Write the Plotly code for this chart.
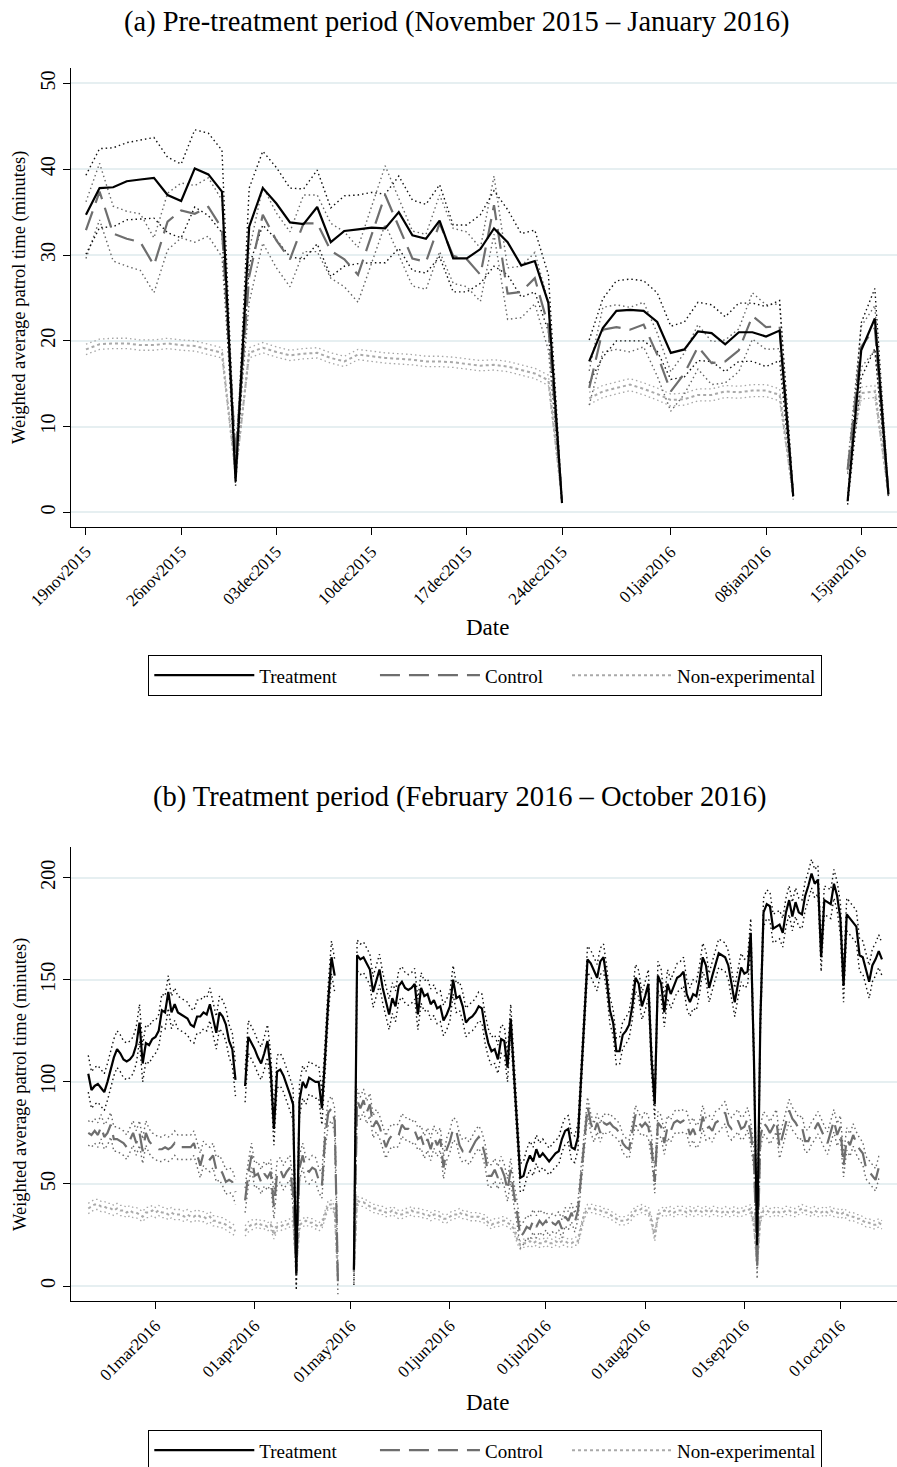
import pandas as pd
import plotly.graph_objects as go

SERIF = "Liberation Serif"

# ---------------- Panel (a): pre-treatment, daily from 19 Nov 2015 ----------------
pre_start = "2015-11-19"
pre_treatment = [
    34.7, 37.8, 37.9, 38.6, 38.8, 39.0, 37.0, 36.3, 40.1, 39.4,
    37.4, 3.6, 33.3, 37.8, 36.0, 33.8, 33.6, 35.6, 31.5, 32.8,
    33.0, 33.2, 33.1, 35.0, 32.3, 31.9, 34.0, 29.6, 29.6, 30.7,
    33.1, 31.5, 28.8, 29.3, 24.4, 1.1, None, 17.6, 21.5, 23.5,
    23.6, 23.5, 22.2, 18.6, 19.0, 21.1, 20.9, 19.6, 21.0, 21.0,
    20.5, 21.2, 1.9, None, None, None, 1.3, 18.9, 22.6, 2.1,
]
pre_control = [
    32.9, 37.4, 32.5, 31.9, 31.5, 28.8, 33.9, 35.2, 34.8, 35.6,
    33.1, 6.5, 27.5, 34.7, 31.7, 29.5, 33.7, 33.7, 30.5, 29.5,
    27.7, 32.4, 37.0, 33.3, 29.6, 29.2, 33.7, 29.9, 29.5, 27.7,
    35.8, 25.5, 25.7, 27.3, 21.7, 1.5, None, 14.5, 21.3, 21.6,
    21.3, 21.9, 18.4, 14.1, 16.2, 19.3, 17.4, 17.6, 18.9, 22.9,
    21.6, 21.7, 1.9, None, None, None, 5.0, 19.3, 21.5, 2.3,
]
pre_nonexp = [
    19.0, 19.6, 19.7, 19.7, 19.5, 19.5, 19.7, 19.5, 19.4, 19.0,
    18.6, 4.5, 18.6, 19.2, 18.7, 18.3, 18.5, 18.6, 18.0, 17.6,
    18.4, 18.2, 18.0, 17.9, 17.8, 17.6, 17.6, 17.5, 17.3, 17.1,
    17.2, 17.0, 16.6, 16.2, 15.4, 1.5, None, 13.3, 14.1, 14.5,
    14.9, 14.4, 13.8, 13.1, 13.2, 13.7, 13.7, 14.1, 14.0, 14.2,
    14.2, 13.7, 1.9, None, None, None, 5.0, 13.9, 14.1, 2.1,
]
# half-widths of the 95% confidence intervals
pre_treatment_ci = [
    4.6, 4.6, 4.6, 4.5, 4.6, 4.7, 4.4, 4.3, 4.5, 4.8,
    4.8, 0.5, 4.5, 4.3, 4.2, 4.0, 4.1, 4.3, 4.0, 4.1,
    4.0, 4.1, 4.0, 4.2, 4.1, 4.0, 4.2, 3.9, 3.9, 4.0,
    4.4, 3.8, 3.7, 3.6, 3.3, 0.3, 0.0, 2.5, 3.4, 3.5,
    3.6, 3.5, 3.4, 3.1, 3.2, 3.4, 3.3, 3.2, 3.4, 3.4,
    3.5, 3.5, 0.4, 0.0, 0.0, 0.0, 0.4, 3.2, 3.5, 0.4,
]
pre_control_ci = [
    3.3, 3.3, 3.2, 3.2, 3.3, 3.2, 3.3, 3.2, 3.3, 3.4,
    3.3, 0.6, 3.0, 3.3, 3.2, 3.2, 3.3, 3.3, 3.2, 3.2,
    3.2, 3.3, 3.4, 3.3, 3.2, 3.2, 3.3, 3.2, 3.2, 3.1,
    3.4, 3.0, 3.0, 3.0, 2.8, 0.3, 0.0, 2.0, 2.6, 2.6,
    2.6, 2.6, 2.5, 2.3, 2.4, 2.6, 2.5, 2.5, 2.5, 2.7,
    2.6, 2.6, 0.4, 0.0, 0.0, 0.0, 0.5, 2.4, 2.6, 0.4,
]
pre_nonexp_ci = [
    0.6, 0.6, 0.6, 0.6, 0.6, 0.6, 0.6, 0.6, 0.6, 0.6,
    0.6, 0.3, 0.6, 0.6, 0.6, 0.6, 0.6, 0.6, 0.6, 0.6,
    0.6, 0.6, 0.6, 0.6, 0.6, 0.6, 0.6, 0.6, 0.6, 0.6,
    0.6, 0.6, 0.6, 0.6, 0.6, 0.2, 0.0, 0.7, 0.7, 0.7,
    0.7, 0.7, 0.7, 0.7, 0.7, 0.7, 0.7, 0.7, 0.7, 0.7,
    0.7, 0.7, 0.2, 0.0, 0.0, 0.0, 0.3, 0.7, 0.7, 0.2,
]
pre_tickvals = ["2015-11-19", "2015-11-26", "2015-12-03", "2015-12-10", "2015-12-17",
                "2015-12-24", "2016-01-01", "2016-01-08", "2016-01-15"]
pre_ticktext = ["19nov2015", "26nov2015", "03dec2015", "10dec2015", "17dec2015",
                "24dec2015", "01jan2016", "08jan2016", "15jan2016"]
pre_yticks = [0, 10, 20, 30, 40, 50]

# ---------------- Panel (b): treatment period, daily from 09 Feb 2016 ----------------
post_start = "2016-02-09"
post_treatment = [
    104, 96, 98, 99, 97, 95, 100, 106, 112, 116,
    114, 111, 110, 111, 113, 118, 129, 109, 119, 118,
    121, 122, 125, 135, 134, 144, 134, 138, 134, 133,
    132, 131, 128, 127, 132, 132, 134, 133, 138, 131,
    124, 134, 132, 128, 120, 116, 101, None, None, 98,
    122, 119, 116, 112, 109, 114, 120, 106, 77, 105,
    106, 103, 99, 94, 89, 6, 91, 100, 97, 102,
    101, 100, 100, 87, 112, 140, 161, 152, None, None,
    None, None, None, 8, 162, 160, 161, 158, 155, 144,
    150, 155, 146, 139, 133, 141, 137, 147, 149, 146,
    145, 146, 148, 133, 146, 142, 143, 138, 140, 136,
    137, 130, 133, 137, 150, 141, 142, 137, 129, 131,
    132, 134, 137, 136, 126, 119, 115, 116, 111, 121,
    120, 107, 131, 104, 78, 53, 54, 60, 64, 61,
    67, 63, 65, 63, 61, 63, 65, 66, 72, 76,
    77, 68, 67, 73, 104, 135, 160, 158, 154, 151,
    159, 161, 150, 135, 129, 115, 115, 123, 125, 128,
    137, 151, 148, 137, 142, 148, 111, 89, 152, 148,
    134, 148, 143, 147, 151, 152, 154, 143, 139, 143,
    142, 150, 161, 157, 146, 152, 158, 163, 162, 161,
    157, 148, 139, 148, 156, 153, 154, 173, 111, 20,
    130, 183, 187, 186, 175, 176, 177, 173, 183, 189,
    181, 188, 183, 182, 191, 196, 202, 197, 199, 161,
    189, 188, 187, 197, 191, 180, 147, 182, 180, 178,
    176, 162, 161, 155, 149, 157, 160, 164, 160,
]
post_control = [
    75, 74, 76, 74, 78, 73, 75, 79, 72, 72,
    71, 70, 68, 72, 75, 70, 75, 66, 75, 71,
    69, 68, 67, 67, 68, 67, 68, 70, 68, 68,
    68, 68, 68, 70, 65, 59, 65, 63, 62, 64,
    57, 58, 55, 51, 52, 51, 46, None, None, 42,
    55, 64, 54, 55, 51, 55, 53, 56, 39, 55,
    57, 53, 56, 58, 45, 6, 58, 64, 57, 56,
    58, 57, 52, 49, 73, 85, 87, 81, 2, None,
    None, None, None, 7, 91, 87, 91, 85, 89, 78,
    81, 78, 73, 68, 72, 74, 73, 74, 79, 77,
    77, 75, 76, 72, 73, 68, 72, 67, 73, 69,
    72, 58, 67, 71, 77, 76, 69, 66, 67, 65,
    68, 71, 73, 70, 64, 54, 54, 57, 53, 58,
    54, 47, 57, 45, 36, 24, 26, 29, 28, 32,
    29, 32, 30, 32, 29, 31, 30, 32, 28, 34,
    32, 36, 31, 37, 54, 72, 88, 80, 75, 80,
    75, 80, 79, 80, 78, 77, 75, 70, 68, 67,
    75, 84, 80, 78, 80, 78, 68, 51, 80, 78,
    70, 78, 76, 80, 81, 80, 81, 80, 74, 77,
    73, 75, 83, 77, 78, 76, 80, 81, 83, 85,
    79, 77, 79, 81, 77, 78, 82, 75, 62, 9,
    73, 80, 78, 75, 78, 81, 68, 74, 80, 86,
    82, 80, 77, 78, 71, 71, 75, 77, 80, 76,
    73, 70, 75, 81, 74, 78, 59, 72, 69, 74,
    70, 67, 65, 58, 56, 54, 52, 58, 58,
]
post_nonexp = [
    38, 39, 40, 40, 39, 39, 38, 38, 37, 38,
    37, 37, 36, 37, 36, 36, 35, 34, 36, 36,
    37, 36, 37, 36, 36, 35, 36, 35, 35, 35,
    34, 35, 34, 34, 35, 34, 34, 33, 34, 32,
    32, 31, 31, 30, 29, 28, 27, None, None, 27,
    29, 30, 30, 31, 30, 30, 29, 30, 25, 29,
    29, 30, 30, 31, 32, 8, 30, 31, 32, 31,
    31, 30, 29, 30, 35, 40, 40, 37, 3, None,
    None, None, None, 7, 42, 41, 41, 40, 39, 38,
    38, 37, 37, 36, 36, 37, 36, 35, 35, 36,
    36, 37, 36, 36, 36, 35, 35, 34, 35, 35,
    34, 33, 33, 34, 35, 35, 36, 35, 35, 34,
    34, 34, 34, 33, 33, 31, 30, 31, 31, 32,
    32, 31, 30, 28, 23, 20, 21, 21, 22, 21,
    22, 21, 21, 22, 21, 21, 22, 21, 22, 22,
    21, 21, 22, 22, 29, 35, 38, 38, 38, 37,
    37, 36, 36, 35, 34, 33, 32, 32, 32, 33,
    35, 37, 37, 38, 37, 37, 32, 24, 35, 36,
    37, 36, 37, 36, 37, 37, 37, 36, 37, 36,
    37, 37, 36, 37, 36, 37, 37, 36, 36, 37,
    36, 36, 37, 36, 36, 37, 37, 38, 30, 10,
    33, 37, 37, 36, 36, 37, 36, 36, 37, 37,
    36, 36, 37, 38, 37, 37, 36, 37, 36, 36,
    37, 36, 37, 36, 36, 35, 36, 35, 34, 34,
    33, 33, 32, 31, 31, 30, 30, 31, 30,
]
# 95% CI half-widths by calendar month (Feb .. Oct)
post_months = [2, 3, 4, 5, 6, 7, 8, 9, 10]
post_treatment_ci = [9.0, 8.0, 8.0, 7.5, 7.0, 6.5, 7.0, 7.0, 8.0]
post_control_ci = [6.0, 6.0, 6.0, 5.5, 5.5, 4.5, 5.5, 5.5, 5.5]
post_nonexp_ci = [2.5, 2.5, 2.0, 2.0, 2.0, 2.0, 2.0, 2.0, 2.0]
post_tickvals = ["2016-03-01", "2016-04-01", "2016-05-01", "2016-06-01",
                 "2016-07-01", "2016-08-01", "2016-09-01", "2016-10-01"]
post_ticktext = ["01mar2016", "01apr2016", "01may2016", "01jun2016",
                 "01jul2016", "01aug2016", "01sep2016", "01oct2016"]
post_yticks = [0, 50, 100, 150, 200]

series_names = ["Treatment", "Control", "Non-experimental"]

# ---------------- styling ----------------
W, H = 897, 1467
line_styles = {
    "Treatment": dict(color="#000000", width=2.2, dash="solid"),
    "Control": dict(color="#6e6e6e", width=2.2, dash="20px,9px"),
    "Non-experimental": dict(color="#a9a9a9", width=2.0, dash="3px,3px"),
}
ci_styles = {
    "Treatment": dict(color="#111111", width=1.4, dash="1.5px,3px"),
    "Control": dict(color="#666666", width=1.4, dash="1.5px,3px"),
    "Non-experimental": dict(color="#a5a5a5", width=1.3, dash="1.5px,3px"),
}
# legend labels; trailing no-break spaces open up the gap before the next key
legend_labels = {
    "Treatment": "Treatment" + "\u00a0" * 7,
    "Control": "Control" + "\u00a0" * 4,
    "Non-experimental": "Non-experimental",
}


def band(values, halfwidths, sign):
    return [None if v is None else v + sign * w for v, w in zip(values, halfwidths)]


def px_y(p):
    return 1 - p / H


fig = go.Figure()


def add_panel(dates, means, cis, xaxis, yaxis, legend):
    # confidence bands first, means drawn on top
    for name in series_names[::-1]:
        for sign in (1, -1):
            fig.add_trace(go.Scatter(
                x=dates, y=band(means[name], cis[name], sign), mode="lines",
                line=ci_styles[name], showlegend=False, hoverinfo="skip",
                xaxis=xaxis, yaxis=yaxis))
    for name in series_names[::-1]:
        fig.add_trace(go.Scatter(
            x=dates, y=means[name], mode="lines", name=legend_labels[name],
            line=line_styles[name], xaxis=xaxis, yaxis=yaxis, legend=legend,
            legendrank={"Treatment": 1, "Control": 2, "Non-experimental": 3}[name]))


# panel (a)
pre_dates = pd.date_range(pre_start, periods=len(pre_treatment), freq="D")
add_panel(pre_dates,
          {"Treatment": pre_treatment, "Control": pre_control, "Non-experimental": pre_nonexp},
          {"Treatment": pre_treatment_ci, "Control": pre_control_ci, "Non-experimental": pre_nonexp_ci},
          "x", "y", "legend")

# panel (b)
post_dates = pd.date_range(post_start, periods=len(post_treatment), freq="D")
month_idx = [post_months.index(d.month) for d in post_dates]
add_panel(post_dates,
          {"Treatment": post_treatment, "Control": post_control, "Non-experimental": post_nonexp},
          {"Treatment": [post_treatment_ci[i] for i in month_idx],
           "Control": [post_control_ci[i] for i in month_idx],
           "Non-experimental": [post_nonexp_ci[i] for i in month_idx]},
          "x2", "y2", "legend2")

a0 = pd.Timestamp(pre_start)
b0 = pd.Timestamp("2016-03-01")
pre_range = [str(a0 + pd.Timedelta(days=-1.1)), str(a0 + pd.Timedelta(days=59.63))]
post_range = [str(b0 + pd.Timedelta(days=-26.4)), str(b0 + pd.Timedelta(days=231.7))]

x_left = 71 / W
axis_common = dict(showline=True, linecolor="black", linewidth=1.4, ticks="outside",
                   ticklen=7, tickwidth=1.2, tickcolor="black", zeroline=False,
                   automargin=False)
xfont = dict(family=SERIF, size=17, color="black")
yfont = dict(family=SERIF, size=20, color="black")
grid = dict(showgrid=True, gridcolor="#e6eff1", gridwidth=2)
legend_common = dict(orientation="h", x=148 / W, xanchor="left", yanchor="top",
                     bordercolor="black", borderwidth=1.3, bgcolor="white",
                     font=dict(family=SERIF, size=19, color="black"), itemwidth=100,
                     traceorder="normal")

fig.update_layout(
    width=W, height=H, margin=dict(l=0, r=0, t=0, b=0, autoexpand=False),
    paper_bgcolor="white", plot_bgcolor="white",
    xaxis=dict(domain=[x_left, 1], anchor="y", type="date", range=pre_range,
               tickmode="array", tickvals=pre_tickvals, ticktext=pre_ticktext,
               tickangle=-45, tickfont=xfont, showgrid=False, **axis_common),
    yaxis=dict(domain=[px_y(527), px_y(68)], anchor="x", range=[-1.7, 51.8],
               tickmode="array", tickvals=pre_yticks, tickangle=-90, tickfont=yfont,
               **grid, **axis_common),
    xaxis2=dict(domain=[x_left, 1], anchor="y2", type="date", range=post_range,
                tickmode="array", tickvals=post_tickvals, ticktext=post_ticktext,
                tickangle=-45, tickfont=xfont, showgrid=False, **axis_common),
    yaxis2=dict(domain=[px_y(1301), px_y(847)], anchor="x2", range=[-7.3, 215],
                tickmode="array", tickvals=post_yticks, tickangle=-90, tickfont=yfont,
                **grid, **axis_common),
    legend=dict(y=px_y(655), **legend_common),
    legend2=dict(y=px_y(1430), **legend_common),
    showlegend=True,
)

ann = []
title_font = dict(family=SERIF, size=28.5, color="black")
ann.append(dict(text="(a) Pre-treatment period (November 2015 \u2013 January 2016)",
                x=457 / W, y=px_y(22), xref="paper", yref="paper", showarrow=False,
                font=title_font, xanchor="center", yanchor="middle"))
ann.append(dict(text="(b) Treatment period (February 2016 \u2013 October 2016)",
                x=460 / W, y=px_y(797), xref="paper", yref="paper", showarrow=False,
                font=title_font, xanchor="center", yanchor="middle"))
for yc in (628, 1402):
    ann.append(dict(text="Date", x=487 / W, y=px_y(yc), xref="paper", yref="paper",
                    showarrow=False, font=dict(family=SERIF, size=23, color="black"),
                    xanchor="center", yanchor="middle"))
for yc in (298, 1085):
    ann.append(dict(text="Weighted average patrol time (minutes)", x=20 / W, y=px_y(yc),
                    xref="paper", yref="paper", showarrow=False, textangle=-90,
                    font=dict(family=SERIF, size=18.5, color="black"),
                    xanchor="center", yanchor="middle"))
fig.update_layout(annotations=ann)

fig.write_html("out.html")
